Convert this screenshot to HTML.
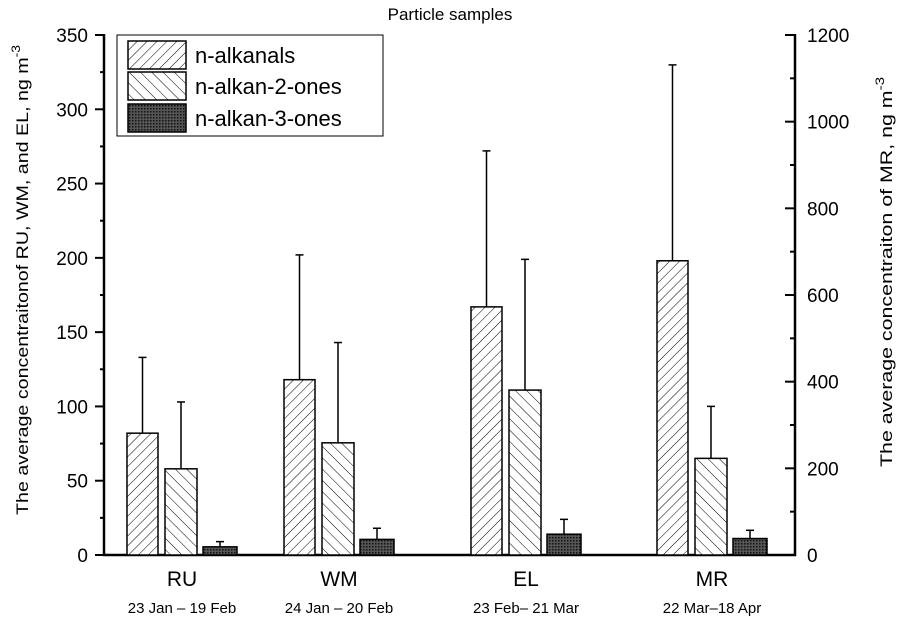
<!DOCTYPE html>
<html><head><meta charset="utf-8"><style>
body{margin:0;background:#fff}
svg text{font-family:"Liberation Sans",Arial,sans-serif;fill:#000}
</style></head><body>
<svg id="chart" width="901" height="623" viewBox="0 0 901 623" xmlns="http://www.w3.org/2000/svg">
<defs>
<pattern id="pFwd" patternUnits="userSpaceOnUse" width="7" height="7" patternTransform="rotate(45)"><rect width="7" height="7" fill="#fff"/><line x1="0" y1="0" x2="0" y2="7" stroke="#000" stroke-width="1"/></pattern>
<pattern id="pBack" patternUnits="userSpaceOnUse" width="8" height="8" patternTransform="rotate(-45)"><rect width="8" height="8" fill="#fff"/><line x1="0" y1="0" x2="0" y2="8" stroke="#000" stroke-width="1"/></pattern>
<pattern id="pDots" patternUnits="userSpaceOnUse" width="3" height="3"><rect width="3" height="3" fill="#555"/><rect width="1.5" height="1.5" fill="#111"/></pattern>
</defs>
<text x="450" y="20" font-size="17" text-anchor="middle">Particle samples</text>
<g id="axes"></g>
<g id="bars"></g>
<g>
<rect x="117" y="35" width="266" height="101" fill="#fff" stroke="#000" stroke-width="1"/>
<rect x="128" y="41" width="58" height="28" fill="url(#pFwd)" stroke="#000" stroke-width="1.5"/>
<text x="195" y="63" font-size="22">n-alkanals</text>
<rect x="128" y="72" width="58" height="28" fill="url(#pBack)" stroke="#000" stroke-width="1.5"/>
<text x="195" y="94" font-size="22">n-alkan-2-ones</text>
<rect x="128" y="104" width="58" height="28" fill="url(#pDots)" stroke="#000" stroke-width="1.5"/>
<text x="195" y="126" font-size="22">n-alkan-3-ones</text>
</g>
<text transform="translate(28,280) rotate(-90)" font-size="17" text-anchor="middle" textLength="470" lengthAdjust="spacingAndGlyphs">The average concentraitonof RU, WM, and EL,  ng m<tspan dy="-8" font-size="12">-3</tspan></text>
<text transform="translate(892,272) rotate(-90)" font-size="17" text-anchor="middle" textLength="390" lengthAdjust="spacingAndGlyphs">The average concentraiton of MR, ng m<tspan dy="-8" font-size="12">-3</tspan></text>
</svg>
<script>
const categories=["RU","WM","EL","MR"];
const dates=["23 Jan \u2013 19 Feb","24 Jan \u2013 20 Feb","23 Feb\u2013 21 Mar","22 Mar\u201318 Apr"];
// RU, WM, EL on left axis; MR on right axis
const alkanals=[82,118,167,679];
const alkanalsErr=[133,202,272,1131];
const twoOnes=[58,75.5,111,223];
const twoOnesErr=[103,143,199,343];
const threeOnes=[5.5,10.5,14,38];
const threeOnesErr=[9,18,24,57];
const useRight=[false,false,false,true];
const leftTicks=[0,50,100,150,200,250,300,350];
const rightTicks=[0,200,400,600,800,1000,1200];

const NS="http://www.w3.org/2000/svg";
const X0=104,X1=795,Y0=555,YT=35;
function yL(v){return Y0-(v/350)*(Y0-YT);}
function yR(v){return Y0-(v/1200)*(Y0-YT);}
const groupStart=[127,284,471,657];
const barW=[31,32,34];
const barOff=[0,38,76];
function mk(tag,attrs,parent){const e=document.createElementNS(NS,tag);for(const k in attrs)e.setAttribute(k,attrs[k]);parent.appendChild(e);return e;}
const ax=document.getElementById('axes'),bg=document.getElementById('bars');
const la=mk('line',{x1:X0,y1:YT-1,x2:X0,y2:Y0+1,stroke:'#000','stroke-width':2.5},ax);


leftTicks.forEach(v=>{
  mk('line',{x1:X0-9,y1:yL(v),x2:X0,y2:yL(v),stroke:'#000','stroke-width':2},ax);
  if(v<350) mk('line',{x1:X0-4,y1:yL(v+25),x2:X0,y2:yL(v+25),stroke:'#000','stroke-width':2},ax);
  const t=mk('text',{x:88,y:yL(v)+7,'font-size':19,'text-anchor':'end'},ax);t.textContent=v;
  
  
});
const ra=mk('line',{x1:X1,y1:YT-1,x2:X1,y2:Y0+1,stroke:'#000','stroke-width':2.5},ax);


rightTicks.forEach(v=>{
  mk('line',{x1:X1-10,y1:yR(v),x2:X1,y2:yR(v),stroke:'#000','stroke-width':2},ax);
  if(v<1200) mk('line',{x1:X1-5,y1:yR(v+100),x2:X1,y2:yR(v+100),stroke:'#000','stroke-width':2},ax);
  const t=mk('text',{x:807,y:yR(v)+7,'font-size':19},ax);t.textContent=v;
  
  
});
const xa=mk('line',{x1:X0-1,y1:Y0,x2:X1+1,y2:Y0,stroke:'#000','stroke-width':2.5},ax);


const series=[[alkanals,alkanalsErr,'url(#pFwd)','alkanals'],[twoOnes,twoOnesErr,'url(#pBack)','2-ones'],[threeOnes,threeOnesErr,'url(#pDots)','3-ones']];
categories.forEach((c,i)=>{
  const y=useRight[i]?yR:yL;
  series.forEach((s,j)=>{
    const x=groupStart[i]+barOff[j],w=barW[j],top=y(s[0][i]),et=y(s[1][i]),cx=x+w/2;
    const eb=mk('line',{x1:cx,y1:top,x2:cx,y2:et,stroke:'#000','stroke-width':1.5},bg);
    
    
    mk('line',{x1:cx-4,y1:et,x2:cx+4,y2:et,stroke:'#000','stroke-width':1.5},bg);
    const r=mk('rect',{x:x,y:top,width:w,height:Y0-top,fill:s[2],stroke:'#000','stroke-width':1.5},bg);
    
    
  });
  const gc=(groupStart[i]+groupStart[i]+barOff[2]+barW[2])/2;
  const t=mk('text',{x:gc,y:586,'font-size':21,'text-anchor':'middle'},ax);t.textContent=c;
  
  
  const d=mk('text',{x:gc,y:613,'font-size':15,'text-anchor':'middle'},ax);d.textContent=dates[i];
  
  
});
</script>
</body></html>
